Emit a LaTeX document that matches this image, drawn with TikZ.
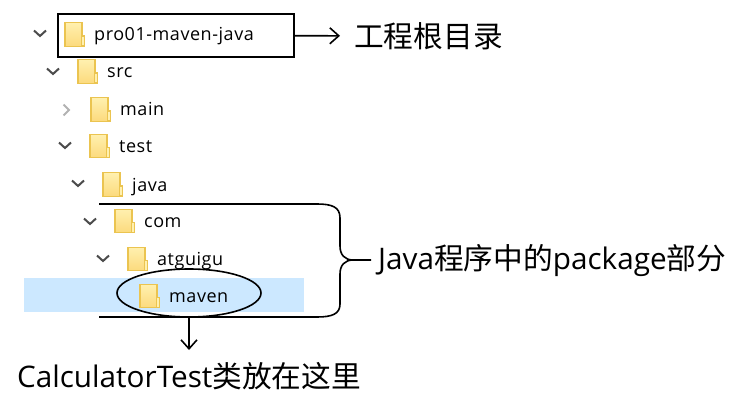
\documentclass[tikz,border=0pt]{standalone}
\usepackage{fontspec}
\setmainfont{Open Sans}
\newfontfamily\treefont[LetterSpace=3]{Open Sans}
\newfontfamily\cjk{Noto Sans CJK SC}
\usetikzlibrary{shapes.geometric, arrows.meta, positioning}
\definecolor{folderedge}{RGB}{235, 196, 80}
\definecolor{foldertop}{RGB}{255, 240, 175}
\definecolor{folderbot}{RGB}{252, 218, 125}
\definecolor{selectblue}{RGB}{204, 232, 255}
\tikzstyle{folder} = [draw=folderedge, line width=1.3pt, top color=foldertop, bottom color=folderbot,
                      minimum width=17pt, minimum height=23.5pt, inner sep=0pt]
\tikzstyle{foldtab} = [draw=folderedge, line width=1.3pt, fill=foldertop,
                       minimum width=3.5pt, minimum height=10pt, inner sep=0pt]
\tikzstyle{treelabel} = [anchor=base west, inner sep=0pt, font=\fontsize{18}{20}\treefont]
\tikzstyle{biglabel} = [inner sep=0pt, font=\fontsize{29.7}{34}\selectfont]
\tikzstyle{chevron} = [draw=black!70, line width=2pt]
\tikzstyle{inkline} = [draw=black, line width=1.6pt]
\tikzstyle{pointer} = [inkline, -{Straight Barb[length=9pt, width=16pt]}]
\begin{document}
\begin{tikzpicture}[x=1pt, y=-1pt]
    \useasboundingbox (0, 0) rectangle (751, 406);
    \node[fill=selectblue, minimum width=280pt, minimum height=34pt, inner sep=0pt] (selected) at (164, 295) {};
    % tree rows
    \foreach \row/\cx/\ry/\txt in {pro/40/34.5/pro01-maven-java, src/53/71.5/src, main/66/109.5/main, test/65/146/test,
                                   java/78/184.5/java, com/90/221/com, atguigu/103/259/atguigu, maven/115/296/maven} {
        \node[folder] (\row) at (\cx+33.5, \ry) {};
        \node[foldtab] (\row tab) at (\cx+43, \ry+6.5) {};
        \node[treelabel] (\row text) at (\cx+54, \ry+6.5) {\txt};
    }
    \foreach \cx/\ry in {40/33, 53/71, 65/145, 78/183, 90/221, 103/258} {
        \draw[chevron] (\cx-6, \ry-2.5) -- (\cx, \ry+3) -- (\cx+6, \ry-2.5);
    }
    \draw[chevron, draw=black!30] (63.5, 104.5) -- (69, 110) -- (63.5, 115.5);

    \node[inkline, minimum width=236pt, minimum height=43pt, inner sep=0pt] (rootbox) at (176, 35.5) {};
    \node[inkline, ellipse, minimum width=144pt, minimum height=48pt, inner sep=0pt] (ring) at (189, 293) {};

    \node[biglabel, anchor=west] (rootlabel) at (354, 36) {\cjk 工程根目录};
    \node[biglabel, anchor=west] (pkglabel) at (378, 261) {Java{\cjk 程序中的}package{\cjk 部分}};
    \node[biglabel] (classlabel) at (189, 376) {CalculatorTest{\cjk 类放在这里}};

    \draw[pointer, shorten >=14pt] (rootbox) -- (rootlabel);
    \draw[pointer] (ring.south) -- (189, 350);

    \coordinate (bracetop) at (99, 204);
    \coordinate (bracebot) at (99, 317);
    \coordinate (bracetip) at (371, 260);
    \draw[inkline] (bracetop) -- (317, 204) .. controls (332, 204) and (340, 207) .. (340, 218)
        -- (340, 246) .. controls (340, 255) and (345, 260) .. (353, 260) -- (bracetip);
    \draw[inkline] (bracebot) -- (317, 317) .. controls (332, 317) and (340, 314) .. (340, 304)
        -- (340, 274) .. controls (340, 265) and (345, 260) .. (353, 260);
\end{tikzpicture}
\end{document}
